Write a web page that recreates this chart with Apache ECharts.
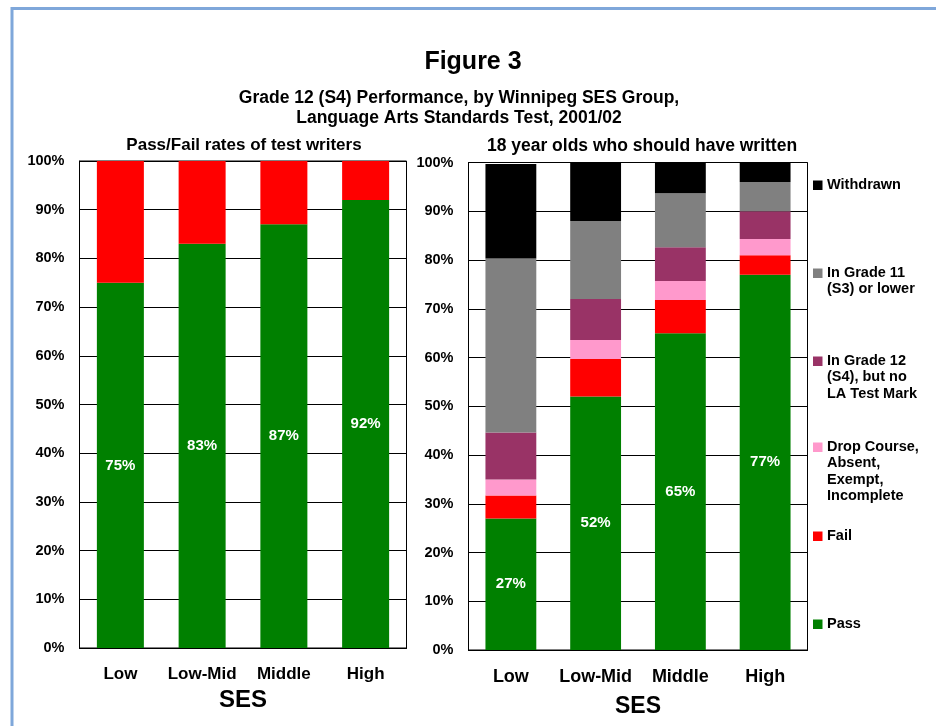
<!DOCTYPE html>
<html>
<head>
<meta charset="utf-8">
<script src="https://cdn.jsdelivr.net/npm/echarts@6/dist/echarts.min.js"></script>
<style>
  html, body { margin: 0; padding: 0; background: #fff; }
  #chart { width: 936px; height: 726px; }
</style>
</head>
<body>
<div id="chart"></div>
<script>
// SES groups (x categories, shared by both panels)
const categories = ['Low', 'Low-Mid', 'Middle', 'High'];

// Left panel: pass/fail rates of test writers (%)
const writersPass = [75, 83, 87, 92];
const writersFail = [25, 17, 13, 8];

// Right panel: 18 year olds who should have written (%)
const allPass       = [27, 52, 65, 77];
const allFail       = [4.7, 7.7, 6.8, 4.0];
const allDropped    = [3.3, 3.9, 3.9, 3.3];
const allGrade12    = [9.6, 8.4, 6.9, 5.7];
const allGrade11    = [35.7, 16.0, 11.1, 6.0];
const allWithdrawn  = [19.4, 12.0, 6.3, 4.0];

// Percent axis ticks
const percentTicks = [0, 10, 20, 30, 40, 50, 60, 70, 80, 90, 100];

// Legend entries (right panel), top to bottom
const legendNames = [
  'Withdrawn',
  'In Grade 11\n(S3) or lower',
  'In Grade 12\n(S4), but no\nLA Test Mark',
  'Drop Course,\nAbsent,\nExempt,\nIncomplete',
  'Fail',
  'Pass'
];

const FONT = '"Liberation Sans", Arial, sans-serif';
const C = {
  pass: '#008000', fail: '#FF0000', drop: '#FF99CC',
  g12: '#993366', g11: '#808080', wd: '#000000'
};

const chart = echarts.init(document.getElementById('chart'));

function yAxisFor(gridIndex) {
  return {
    type: 'value', gridIndex, min: 0, max: 100, interval: 10,
    axisLine: { show: true, lineStyle: { color: '#000', width: 1 } },
    axisTick: { show: false },
    splitLine: { show: true, lineStyle: { color: '#000', width: 1 } },
    axisLabel: {
      formatter: v => percentTicks.includes(v) ? v + '%' : '',
      color: '#000', fontFamily: FONT, fontWeight: 'bold', fontSize: 14.5,
      margin: 15
    }
  };
}

function xAxisFor(gridIndex, labelSize, nameSize, labelMargin, nameGap) {
  return {
    type: 'category', gridIndex, data: categories,
    axisLine: { show: true, lineStyle: { color: '#000', width: 1 } },
    axisTick: { show: false },
    axisLabel: {
      color: '#000', fontFamily: FONT, fontWeight: 'bold',
      fontSize: labelSize, margin: labelMargin, interval: 0
    },
    name: 'SES', nameLocation: 'middle', nameGap,
    nameTextStyle: { color: '#000', fontFamily: FONT, fontWeight: 'bold', fontSize: nameSize }
  };
}

const insideLabel = {
  show: true, position: 'inside', color: '#fff',
  fontFamily: FONT, fontWeight: 'bold', fontSize: 15,
  formatter: p => p.value + '%'
};

function stackBar(name, data, color, axisIndex, stack, barWidth, label) {
  return {
    name, type: 'bar', data, stack,
    xAxisIndex: axisIndex, yAxisIndex: axisIndex,
    barWidth, itemStyle: { color },
    label: label || { show: false },
    emphasis: { disabled: true },
    animation: false
  };
}

// Legend drawn as square markers with text aligned to the first line
const legendColors = [C.wd, C.g11, C.g12, C.drop, C.fail, C.pass];
const legendFirstLine = [185, 273, 361, 447, 536, 624];
const legendGraphics = [];
legendNames.forEach((name, i) => {
  const cy = legendFirstLine[i];
  legendGraphics.push({
    type: 'rect', left: 813, top: cy - 4.5,
    shape: { width: 9.5, height: 9.5 }, style: { fill: legendColors[i] }
  });
  legendGraphics.push({
    type: 'text', left: 827, top: cy - 8.5,
    style: {
      text: name, fill: '#000', font: 'bold 14.5px ' + FONT,
      lineHeight: 16.5, verticalAlign: 'top'
    }
  });
});

// Outer frame line (top and left edges)
legendGraphics.push({
  type: 'polyline', silent: true,
  shape: { points: [[12, 726], [12, 8.5], [936, 8.5]] },
  style: { stroke: '#7FA7DA', lineWidth: 3, fill: null }
});

chart.setOption({
  backgroundColor: '#fff',
  animation: false,
  title: [
    { text: 'Figure 3', left: 468, top: 45, textAlign: 'center',
      textStyle: { fontFamily: FONT, fontWeight: 'bold', fontSize: 25, color: '#000' } },
    { text: 'Grade 12 (S4) Performance, by Winnipeg SES Group,\nLanguage Arts Standards Test, 2001/02',
      left: 454, top: 83, textAlign: 'center',
      textStyle: { fontFamily: FONT, fontWeight: 'bold', fontSize: 17.5, lineHeight: 20, color: '#000' } },
    { text: 'Pass/Fail rates of test writers', left: 239, top: 132, textAlign: 'center',
      textStyle: { fontFamily: FONT, fontWeight: 'bold', fontSize: 17, color: '#000' } },
    { text: '18 year olds who should have written', left: 637, top: 132, textAlign: 'center',
      textStyle: { fontFamily: FONT, fontWeight: 'bold', fontSize: 17.5, color: '#000' } }
  ],
  grid: [
    { left: 79.5, top: 161, width: 327, height: 487, show: true,
      borderColor: '#000', borderWidth: 1, backgroundColor: 'transparent' },
    { left: 468.5, top: 162.5, width: 339, height: 487.5, show: true,
      borderColor: '#000', borderWidth: 1, backgroundColor: 'transparent' }
  ],
  xAxis: [
    xAxisFor(0, 17, 24, 18, 40),
    xAxisFor(1, 18, 23, 18.5, 45.5)
  ],
  yAxis: [yAxisFor(0), yAxisFor(1)],
  graphic: legendGraphics,
  series: [
    stackBar('Pass', writersPass, C.pass, 0, 'left', '57.5%', insideLabel),
    stackBar('Fail', writersFail, C.fail, 0, 'left', '57.5%'),

    stackBar('Pass', allPass, C.pass, 1, 'right', '60%', insideLabel),
    stackBar('Fail', allFail, C.fail, 1, 'right', '60%'),
    stackBar('Drop Course, Absent, Exempt, Incomplete', allDropped, C.drop, 1, 'right', '60%'),
    stackBar('In Grade 12 (S4), but no LA Test Mark', allGrade12, C.g12, 1, 'right', '60%'),
    stackBar('In Grade 11 (S3) or lower', allGrade11, C.g11, 1, 'right', '60%'),
    stackBar('Withdrawn', allWithdrawn, C.wd, 1, 'right', '60%')
  ]
});
</script>
</body>
</html>
